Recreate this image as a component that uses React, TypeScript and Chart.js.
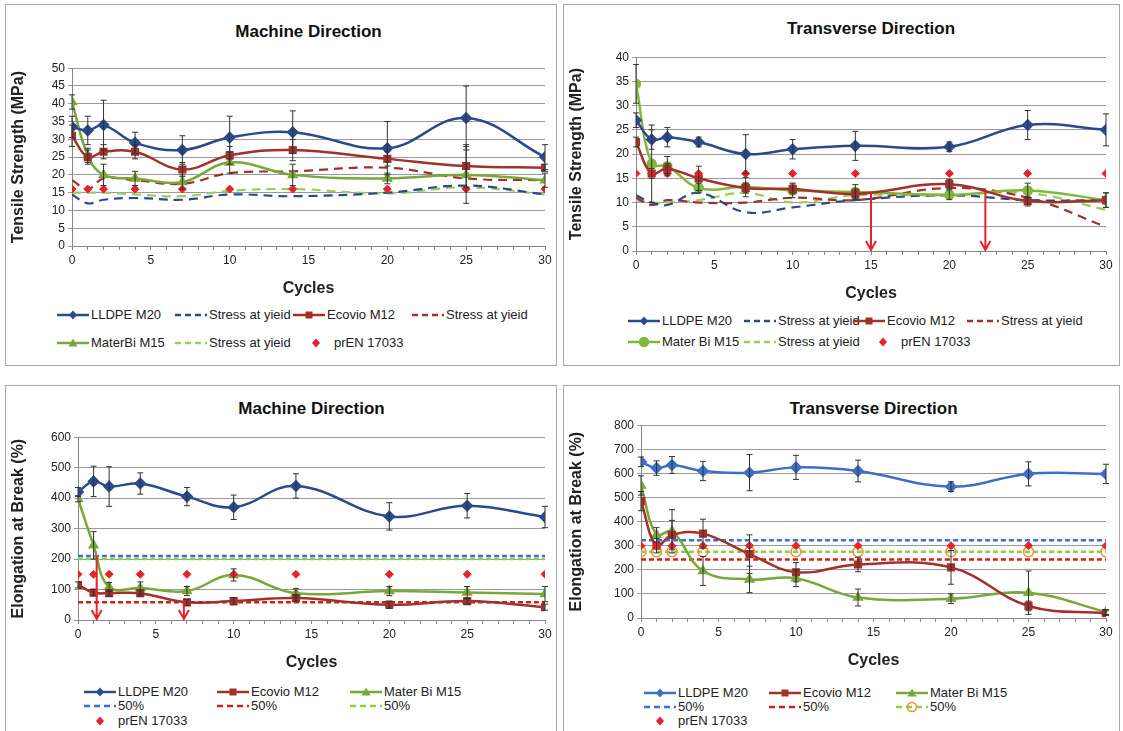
import React, { useEffect, useRef } from "react";
import { Chart, registerables } from "chart.js";

Chart.register(...registerables);

const cycles = [0, 1, 2, 4, 7, 10, 14, 20, 25, 30];

// Tensile strength, machine direction
const mdTsLldpe = [33.5, 32.5, 34, 29, 27, 30.5, 32, 27.5, 36, 25];
const mdTsLldpeErr = [3, 4, 7, 3, 4, 6, 6, 7.5, 9, 3.5];
const mdTsEcovio = [31, 25, 26.5, 26.5, 21.5, 25.5, 27, 24.5, 22.5, 22];
const mdTsEcovioErr = [3, 2, 2, 2, 2, 2.5, 3, 2, 6, 1];
const mdTsMaterbi = [40.5, 25.5, 20, 19, 18, 23.5, 20, 19, 20, 18.5];
const mdTsMaterbiErr = [2, 2, 3, 2, 2, 3, 3, 1.5, 8, 2];
const mdYieldLldpe = [14.5, 12, 13, 13.5, 13, 14.5, 14, 15, 17, 14.5];
const mdYieldEcovio = [18.5, 16, 19, 18.5, 17.5, 20.5, 21, 22, 19, 18.5];
const mdYieldMaterbi = [15, 15, 15, 14.5, 14, 15.5, 16, 14.8, 16.5, 14.5];

// Tensile strength, transverse direction
const tdTsLldpe = [27, 23, 23.5, 22.5, 20, 21, 21.7, 21.5, 26, 25];
const tdTsLldpeErr = [1.5, 2, 2, 1, 4, 2, 3, 1, 3, 3.3];
const tdTsEcovio = [22.5, 16, 17, 15, 13, 12.8, 11.8, 13.8, 10.3, 10.5];
const tdTsEcovioErr = [1, 1, 1, 2.5, 1, 1, 1, 1, 1, 1.5];
const tdTsMaterbi = [34.5, 18, 17.5, 13, 13.2, 12.5, 12.2, 11.6, 12.5, 10.5];
const tdTsMaterbiErr = [4, 8, 2, 1, 2, 1.5, 1.5, 1, 1.5, 1.5];
const tdYieldLldpe = [11.5, 10, 9.5, 12, 8, 9, 10.5, 11.5, 10.5, 10.5];
const tdYieldEcovio = [11, 9.5, 10.5, 10, 10, 11, 10.5, 13, 11, 5];
const tdYieldMaterbi = [10.5, 10, 10, 10.5, 12, 10, 11.5, 11.5, 12, 8.5];

// Elongation at break, machine direction
const mdElLldpe = [420, 455, 438, 448, 405, 370, 440, 340, 375, 338];
const mdElLldpeErr = [15, 50, 65, 35, 30, 40, 40, 45, 40, 35];
const mdElEcovio = [115, 90, 88, 88, 58, 62, 72, 50, 62, 42];
const mdElEcovioErr = [10, 10, 10, 10, 10, 12, 10, 12, 10, 10];
const mdElMaterbi = [398, 245, 108, 105, 95, 148, 88, 95, 90, 85];
const mdElMaterbiErr = [10, 45, 15, 20, 15, 20, 15, 15, 20, 25];
const mdHalfLldpe = 210;
const mdHalfEcovio = 58;
const mdHalfMaterbi = 200;

// Elongation at break, transverse direction
const tdElLldpe = [648, 622, 635, 610, 603, 625, 610, 545, 598, 598];
const tdElLldpeErr = [20, 30, 35, 40, 75, 50, 45, 20, 50, 40];
const tdElEcovio = [485, 300, 345, 350, 265, 190, 222, 210, 50, 20];
const tdElEcovioErr = [40, 30, 60, 60, 80, 40, 30, 70, 20, 10];
const tdElMaterbi = [550, 345, 360, 195, 160, 165, 85, 80, 105, 25];
const tdElMaterbiErr = [40, 30, 90, 60, 55, 35, 35, 20, 90, 10];
const tdHalfLldpe = 323;
const tdHalfEcovio = 243;
const tdHalfMaterbi = 275;

const prEnTs = 16;
const prEnMdEl = 150;
const prEnTdEl = 300;

// red arrows: cycle position and top value
const tdTsArrowX = [15, 22.3];
const tdTsArrowTop = [12, 12.3];
const mdElArrowX = [1.2, 6.8];
const mdElArrowTop = [210, 60];

const BLUE = "#2b4a8c";
const RED = "#a2302b";
const GREEN = "#78a83a";
const PREN = "#e8222b";
const FONT = "'Liberation Sans', Arial, sans-serif";
const NARROW = "'Liberation Sans Narrow', 'Arial Narrow', 'Liberation Sans', sans-serif";

const pts = (ys: number[]) => cycles.map((x, i) => ({ x, y: ys[i] }));
const flat = (v: number) => cycles.map((x) => ({ x, y: v }));

function solid(label: string, ys: number[], errs: number[], color: string, style: string) {
  return {
    label, data: pts(ys), errs, borderColor: color, backgroundColor: color,
    borderWidth: 2.5, tension: 0.4, pointStyle: style, pointRadius: style === "rectRot" ? 4.5 : 4, order: 1,
  };
}
function dashed(label: string, data: any[], color: string, dash = [9, 6], width = 2.2) {
  return {
    label, data, borderColor: color, backgroundColor: color, borderWidth: width,
    borderDash: dash, tension: 0.4, pointRadius: 0, order: 2,
  };
}
function pren(v: number) {
  return {
    label: "prEN 17033", data: flat(v), showLine: false, pointStyle: "rectRot",
    pointRadius: 4, backgroundColor: PREN, borderColor: PREN, order: 0,
  };
}

const errorBars = {
  id: "errorBars",
  afterDatasetsDraw(chart: any) {
    const ctx = chart.ctx;
    const ys = chart.scales.y;
    ctx.save();
    ctx.strokeStyle = "#333";
    ctx.lineWidth = 1;
    chart.data.datasets.forEach((ds: any, di: number) => {
      if (!ds.errs) return;
      const meta = chart.getDatasetMeta(di);
      meta.data.forEach((el: any, i: number) => {
        const v = ds.data[i].y, e = ds.errs[i];
        const t = ys.getPixelForValue(v + e), b = ys.getPixelForValue(v - e);
        ctx.beginPath();
        ctx.moveTo(el.x, t); ctx.lineTo(el.x, b);
        ctx.moveTo(el.x - 3, t); ctx.lineTo(el.x + 3, t);
        ctx.moveTo(el.x - 3, b); ctx.lineTo(el.x + 3, b);
        ctx.stroke();
      });
    });
    ctx.restore();
  },
};

const arrows = {
  id: "arrows",
  afterDatasetsDraw(chart: any, _a: any, opts: any) {
    if (!opts || !opts.xs) return;
    const ctx = chart.ctx;
    const { x, y } = chart.scales;
    ctx.save();
    ctx.strokeStyle = PREN;
    ctx.lineWidth = 2;
    opts.xs.forEach((xv: number, i: number) => {
      const px = x.getPixelForValue(xv);
      const t = y.getPixelForValue(opts.tops[i]);
      const b = y.getPixelForValue(0) - 1;
      ctx.beginPath();
      ctx.moveTo(px, t); ctx.lineTo(px, b);
      ctx.moveTo(px - 5, b - 9); ctx.lineTo(px, b); ctx.lineTo(px + 5, b - 9);
      ctx.stroke();
    });
    ctx.restore();
  },
};

type LegendItem = { text: string; x: number; y: number; color: string; dash?: boolean; marker?: string; open?: boolean };

interface PanelProps {
  box: { x: number; y: number; w: number; h: number };
  plot: { l: number; t: number; r: number; b: number };
  title: string; titleY: number; yTitle: string; yMax: number; yStep: number;
  datasets: any[]; arrowOpts?: any; legend: LegendItem[];
}

function Marker({ m, color, open }: { m?: string; color: string; open?: boolean }) {
  if (!m) return null;
  if (m === "rectRot") return <polygon points="16,1.5 20,6 16,10.5 12,6" fill={color} />;
  if (m === "rect") return <rect x={12.5} y={2.5} width={7} height={7} fill={color} />;
  if (m === "triangle") return <polygon points="16,1.5 20.5,9.5 11.5,9.5" fill={color} />;
  if (m === "circle") return <circle cx={16} cy={6} r={4.5} fill={open ? "none" : color} stroke={open ? "#e8923a" : color} strokeWidth={1.5} />;
  return null;
}

function Panel(p: PanelProps) {
  const ref = useRef<HTMLCanvasElement | null>(null);
  const top = p.plot.t - 10;
  const height = p.plot.b - top + 56;
  useEffect(() => {
    if (!ref.current) return;
    const chart = new Chart(ref.current, {
      type: "line",
      data: { datasets: p.datasets },
      plugins: [errorBars, arrows],
      options: {
        animation: false, responsive: false, maintainAspectRatio: false,
        layout: { padding: { top: 10, right: p.box.x + p.box.w - p.plot.r, left: 0, bottom: 0 } },
        plugins: { legend: { display: false }, tooltip: { enabled: false }, arrows: p.arrowOpts || {} } as any,
        scales: {
          x: {
            type: "linear", min: 0, max: 30,
            afterFit: (s: any) => { s.height = 56; },
            ticks: { stepSize: 1, autoSkip: false, font: { family: FONT, size: 12 }, color: "#222", maxRotation: 0,
              callback: (v: any) => (v % 5 === 0 ? String(v) : "") },
            grid: { drawOnChartArea: false, tickLength: 4, color: "#888" },
            border: { color: "#888" },
            title: { display: true, text: "Cycles", font: { family: FONT, size: 16, weight: "bold" }, color: "#222", padding: { top: 2 } },
          },
          y: {
            min: 0, max: p.yMax,
            afterFit: (s: any) => { s.width = p.plot.l - p.box.x; },
            ticks: { stepSize: p.yStep, font: { family: FONT, size: 12 }, color: "#222" },
            grid: { color: "#9a9a9a", tickLength: 4 },
            border: { color: "#888" },
            title: { display: true, text: p.yTitle, font: { family: FONT, size: 16, weight: "bold" }, color: "#222", padding: { bottom: 4 } },
          },
        },
      } as any,
    });
    return () => chart.destroy();
  }, []);
  return (
    <>
      <div style={{ position: "absolute", left: p.box.x, top: p.box.y, width: p.box.w, height: p.box.h, border: "1.5px solid #a8a8a8", boxSizing: "border-box" }} />
      <div style={{ position: "absolute", left: p.plot.l, width: p.plot.r - p.plot.l, top: p.titleY - 11, textAlign: "center", font: `bold 17px ${FONT}`, color: "#111" }}>{p.title}</div>
      <canvas ref={ref} width={p.box.w} height={height} style={{ position: "absolute", left: p.box.x, top, width: p.box.w, height }} />
      {p.legend.map((it, i) => (
        <div key={i} style={{ position: "absolute", left: it.x, top: it.y - 8, display: "flex", alignItems: "center", font: `13px ${NARROW}`, color: "#222", whiteSpace: "nowrap" }}>
          <svg width={32} height={12} style={{ marginRight: 2 }}>
            {it.color !== "none" && (
              <line x1={0} y1={6} x2={32} y2={6} stroke={it.color} strokeWidth={2.5} strokeDasharray={it.dash ? "6 4" : undefined} />
            )}
            <Marker m={it.marker} color={it.marker === "circle" && !it.open ? it.color : it.color === "none" ? PREN : it.color} open={it.open} />
          </svg>
          {it.text}
        </div>
      ))}
    </>
  );
}

export default function App() {
  const pn = (x: number, y: number): LegendItem => ({ text: "prEN 17033", x, y, color: "none", marker: "rectRot" });
  return (
    <div style={{ position: "absolute", left: 0, top: 0, width: 1123, height: 731, background: "#fff", overflow: "hidden" }}>
      <Panel
        box={{ x: 5, y: 4, w: 552, h: 362 }} plot={{ l: 72, t: 68, r: 545, b: 246 }}
        title="Machine Direction" titleY={33} yTitle="Tensile Strength (MPa)" yMax={50} yStep={5}
        datasets={[
          solid("LLDPE  M20", mdTsLldpe, mdTsLldpeErr, BLUE, "rectRot"),
          solid("Ecovio M12", mdTsEcovio, mdTsEcovioErr, RED, "rect"),
          solid("MaterBi M15", mdTsMaterbi, mdTsMaterbiErr, GREEN, "triangle"),
          dashed("Stress at yield", pts(mdYieldLldpe), BLUE),
          dashed("Stress at yield", pts(mdYieldEcovio), RED),
          dashed("Stress at yield", pts(mdYieldMaterbi), "#9ccc5a"),
          pren(prEnTs),
        ]}
        legend={[
          { text: "LLDPE  M20", x: 57, y: 315, color: BLUE, marker: "rectRot" },
          { text: "Stress at yieid", x: 175, y: 315, color: BLUE, dash: true },
          { text: "Ecovio M12", x: 293, y: 315, color: RED, marker: "rect" },
          { text: "Stress at yieid", x: 412, y: 315, color: RED, dash: true },
          { text: "MaterBi M15", x: 57, y: 343, color: GREEN, marker: "triangle" },
          { text: "Stress at yieid", x: 175, y: 343, color: "#9ccc5a", dash: true },
          pn(300, 343),
        ]}
      />
      <Panel
        box={{ x: 563, y: 4, w: 557, h: 362 }} plot={{ l: 636, t: 57, r: 1106, b: 251 }}
        title="Transverse Direction" titleY={30} yTitle="Tensile Strength (MPa)" yMax={40} yStep={5}
        arrowOpts={{ xs: tdTsArrowX, tops: tdTsArrowTop }}
        datasets={[
          solid("LLDPE  M20", tdTsLldpe, tdTsLldpeErr, BLUE, "rectRot"),
          solid("Ecovio M12", tdTsEcovio, tdTsEcovioErr, RED, "rect"),
          solid("Mater Bi M15", tdTsMaterbi, tdTsMaterbiErr, "#80b83a", "circle"),
          dashed("Stress at yield", pts(tdYieldLldpe), BLUE),
          dashed("Stress at yield", pts(tdYieldEcovio), RED),
          dashed("Stress at yield", pts(tdYieldMaterbi), "#9ccc5a"),
          pren(prEnTs),
        ]}
        legend={[
          { text: "LLDPE  M20", x: 628, y: 321, color: BLUE, marker: "rectRot" },
          { text: "Stress at yieid", x: 744, y: 321, color: BLUE, dash: true },
          { text: "Ecovio M12", x: 853, y: 321, color: RED, marker: "rect" },
          { text: "Stress at yieid", x: 967, y: 321, color: RED, dash: true },
          { text: "Mater Bi M15", x: 628, y: 342, color: "#80b83a", marker: "circle" },
          { text: "Stress at yieid", x: 744, y: 342, color: "#9ccc5a", dash: true },
          pn(867, 342),
        ]}
      />
      <Panel
        box={{ x: 5, y: 385, w: 552, h: 360 }} plot={{ l: 78, t: 437, r: 545, b: 620 }}
        title="Machine Direction" titleY={410} yTitle="Elongation at Break (%)" yMax={600} yStep={100}
        arrowOpts={{ xs: mdElArrowX, tops: mdElArrowTop }}
        datasets={[
          solid("LLDPE  M20", mdElLldpe, mdElLldpeErr, BLUE, "rectRot"),
          solid("Ecovio M12", mdElEcovio, mdElEcovioErr, RED, "rect"),
          solid("Mater Bi M15", mdElMaterbi, mdElMaterbiErr, GREEN, "triangle"),
          dashed("50%", flat(mdHalfLldpe), "#3a6fd8", [5, 3], 2.5),
          dashed("50%", flat(mdHalfEcovio), "#cc1f1f", [5, 3], 2.5),
          dashed("50%", flat(mdHalfMaterbi), "#8ed03a", [5, 3], 2.5),
          pren(prEnMdEl),
        ]}
        legend={[
          { text: "LLDPE  M20", x: 84, y: 692, color: BLUE, marker: "rectRot" },
          { text: "Ecovio M12", x: 217, y: 692, color: RED, marker: "rect" },
          { text: "Mater Bi M15", x: 350, y: 692, color: GREEN, marker: "triangle" },
          { text: "50%", x: 84, y: 706, color: "#3a6fd8", dash: true },
          { text: "50%", x: 217, y: 706, color: "#cc1f1f", dash: true },
          { text: "50%", x: 350, y: 706, color: "#8ed03a", dash: true },
          pn(84, 721),
        ]}
      />
      <Panel
        box={{ x: 563, y: 385, w: 557, h: 360 }} plot={{ l: 641, t: 425, r: 1106, b: 618 }}
        title="Transverse Direction" titleY={410} yTitle="Elongation at Break (%)" yMax={800} yStep={100}
        datasets={[
          solid("LLDPE  M20", tdElLldpe, tdElLldpeErr, "#3f6fc4", "rectRot"),
          solid("Ecovio M12", tdElEcovio, tdElEcovioErr, RED, "rect"),
          solid("Mater Bi M15", tdElMaterbi, tdElMaterbiErr, GREEN, "triangle"),
          dashed("50%", flat(tdHalfLldpe), "#3a6fd8", [5, 3], 2.5),
          dashed("50%", flat(tdHalfEcovio), "#cc1f1f", [5, 3], 2.5),
          { ...dashed("50%", flat(tdHalfMaterbi), "#8ed03a", [5, 3], 2.5), pointRadius: 5, pointStyle: "circle", pointBorderColor: "#e8923a", pointBackgroundColor: "rgba(0,0,0,0)", pointBorderWidth: 1.5 },
          pren(prEnTdEl),
        ]}
        legend={[
          { text: "LLDPE  M20", x: 644, y: 693, color: "#3f6fc4", marker: "rectRot" },
          { text: "Ecovio M12", x: 769, y: 693, color: RED, marker: "rect" },
          { text: "Mater Bi M15", x: 896, y: 693, color: GREEN, marker: "triangle" },
          { text: "50%", x: 644, y: 707, color: "#3a6fd8", dash: true },
          { text: "50%", x: 769, y: 707, color: "#cc1f1f", dash: true },
          { text: "50%", x: 896, y: 707, color: "#8ed03a", dash: true, marker: "circle", open: true },
          pn(644, 721),
        ]}
      />
    </div>
  );
}
